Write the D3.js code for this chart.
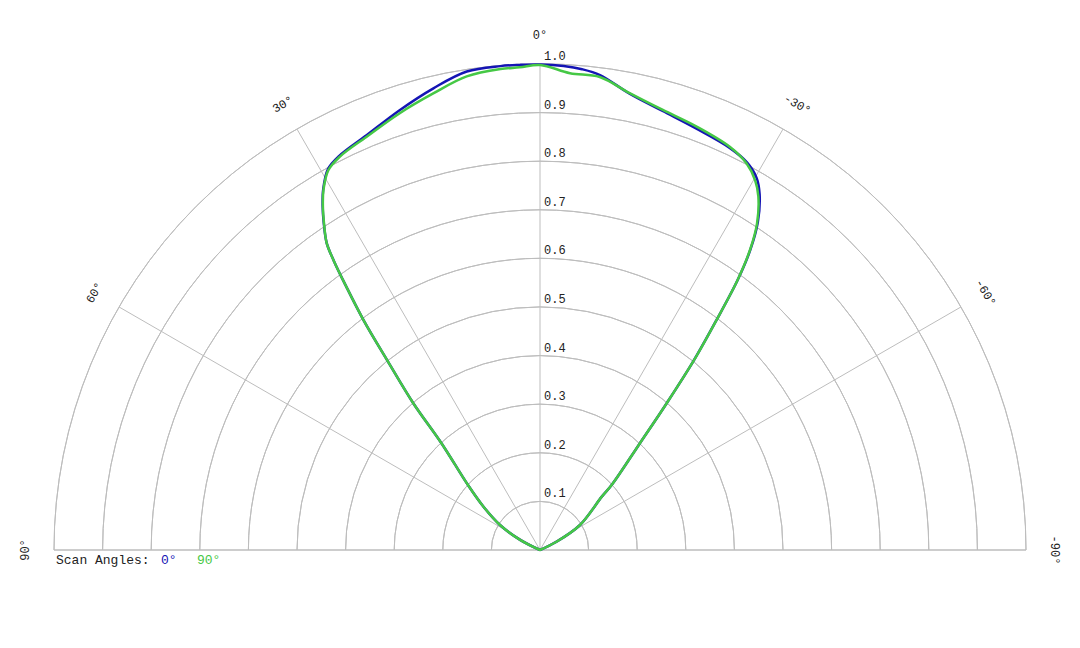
<!DOCTYPE html>
<html>
<head>
<meta charset="utf-8">
<script src="https://cdn.jsdelivr.net/npm/d3@7"></script>
<style>
  body { margin: 0; background: #fff; }
  svg { display: block; }
  text { font-family: "Courier New", "Liberation Mono", monospace; }
</style>
</head>
<body>
<svg id="polar"></svg>
<script>
// rings and spokes
const ringValues = [0.1, 0.2, 0.3, 0.4, 0.5, 0.6, 0.7, 0.8, 0.9, 1.0];
const ringLabels = ["0.1", "0.2", "0.3", "0.4", "0.5", "0.6", "0.7", "0.8", "0.9", "1.0"];
const spokeAngles = [90, 60, 30, 0, -30, -60, -90];
const spokeLabels = ["90°", "60°", "30°", "0°", "-30°", "-60°", "-90°"];

// scan angle 0° (blue)
const angles0 = [90, 63, 58, 52.5, 48, 42.7, 40.8, 38.9, 37.5, 36.3, 35.5, 34.8, 33.5, 32.3, 31, 29.1, 27, 22.7, 17.7, 13, 8.7, 4.7, 2.4, 0,
  -2.8, -5, -7.2, -11.1, -15.6, -20.3, -25.2, -28.1, -30.2, -31.7, -33.6, -35, -36.2, -37.5, -39.1, -40.8, -43.1, -47.8, -49.2, -58, -63.5, -90];
const radius0 = [0, 0.046, 0.097, 0.147, 0.199, 0.299, 0.399, 0.498, 0.597, 0.675, 0.73, 0.769, 0.806, 0.837, 0.866, 0.897, 0.91, 0.925, 0.95, 0.975, 0.996, 0.999, 0.999, 0.999,
  0.997, 0.993, 0.985, 0.957, 0.938, 0.925, 0.915, 0.904, 0.886, 0.86, 0.81, 0.755, 0.689, 0.597, 0.5, 0.399, 0.301, 0.199, 0.168, 0.097, 0.038, 0];

// scan angle 90° (green)
const angles90 = [90, 63, 58, 52.5, 48, 42.7, 40.8, 38.9, 37.5, 36.3, 35.5, 34.8, 33.5, 32.3, 31, 29.1, 27, 22.8, 17.8, 13.1, 8.8, 4.7, 2.4, 0,
  -3.6, -7.2, -11.1, -15.6, -20.3, -25.2, -28.1, -30.2, -31.7, -33.6, -35, -36.2, -37.5, -39.1, -40.8, -43.1, -47.8, -49.2, -58, -63.5, -90];
const radius90 = [0, 0.046, 0.097, 0.147, 0.199, 0.299, 0.399, 0.498, 0.597, 0.675, 0.73, 0.769, 0.805, 0.836, 0.865, 0.895, 0.908, 0.922, 0.944, 0.965, 0.986, 0.993, 0.994, 0.998,
  0.983, 0.981, 0.958, 0.94, 0.929, 0.917, 0.902, 0.88, 0.855, 0.807, 0.753, 0.688, 0.597, 0.5, 0.399, 0.301, 0.199, 0.168, 0.097, 0.038, 0];

const width = 1080, height = 648;
const cx = 540, cy = 550, R = 486;
const gridColor = "#bdbdbd";

const svg = d3.select("#polar")
    .attr("width", width)
    .attr("height", height);

const g = svg.append("g")
    .attr("transform", `translate(${cx},${cy})`);

const r = d3.scaleLinear().domain([0, 1]).range([0, R]);
// positive angles go to the left, 0 at the top
const toRad = deg => -deg * Math.PI / 180;

// rings
const ringArc = d3.arc()
    .innerRadius(d => r(d))
    .outerRadius(d => r(d))
    .startAngle(-Math.PI / 2)
    .endAngle(Math.PI / 2);

g.selectAll(".ring")
    .data(ringValues)
    .enter()
    .append("path")
    .attr("class", "ring")
    .attr("d", ringArc)
    .attr("fill", "none")
    .attr("stroke", gridColor)
    .attr("stroke-width", 1);

// spokes
g.selectAll(".spoke")
    .data(spokeAngles)
    .enter()
    .append("line")
    .attr("x1", 0)
    .attr("y1", 0)
    .attr("x2", d => -r(1) * Math.sin(d * Math.PI / 180))
    .attr("y2", d => -r(1) * Math.cos(d * Math.PI / 180))
    .attr("stroke", gridColor)
    .attr("stroke-width", d => Math.abs(d) === 90 ? 1.6 : 1);

// ring labels
g.selectAll(".ring-label")
    .data(ringValues)
    .enter()
    .append("text")
    .attr("x", 4)
    .attr("y", d => -r(d) - 4)
    .attr("font-size", "12px")
    .attr("fill", "#222")
    .text((d, i) => ringLabels[i]);

// angle labels
const labelR = R + 28;
g.selectAll(".angle-label")
    .data(spokeAngles)
    .enter()
    .append("text")
    .attr("transform", d => {
        const a = d * Math.PI / 180;
        return `translate(${-labelR * Math.sin(a)},${-labelR * Math.cos(a)}) rotate(${-d})`;
    })
    .attr("text-anchor", "middle")
    .attr("dominant-baseline", "middle")
    .attr("font-size", "12px")
    .attr("fill", "#222")
    .text((d, i) => spokeLabels[i]);

// patterns
const line = d3.lineRadial()
    .angle(d => toRad(d[0]))
    .radius(d => r(d[1]))
    .curve(d3.curveCatmullRom.alpha(0.5));

const series = [
    { name: "0°", color: "#1414b4", pts: d3.zip(angles0, radius0) },
    { name: "90°", color: "#45c845", pts: d3.zip(angles90, radius90) }
];

g.selectAll(".pattern")
    .data(series)
    .enter()
    .append("path")
    .attr("d", d => line(d.pts))
    .attr("fill", "none")
    .attr("stroke", d => d.color)
    .attr("stroke-width", 2.5)
    .attr("stroke-linejoin", "round");

// legend
const legend = svg.append("g")
    .attr("transform", `translate(56,564)`);

legend.append("text")
    .attr("font-size", "13px")
    .attr("fill", "#222")
    .text("Scan Angles:");

legend.append("text")
    .attr("x", 105)
    .attr("font-size", "13px")
    .attr("fill", "#1414b4")
    .text("0°");

legend.append("text")
    .attr("x", 141)
    .attr("font-size", "13px")
    .attr("fill", "#45c845")
    .text("90°");
</script>
</body>
</html>
